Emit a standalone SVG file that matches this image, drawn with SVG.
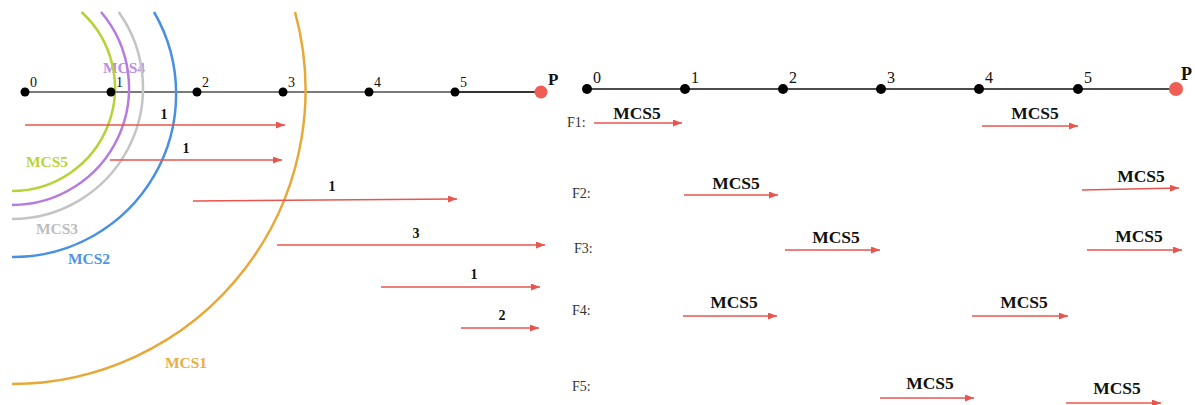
<svg xmlns="http://www.w3.org/2000/svg" width="1195" height="405" viewBox="0 0 1195 405">
<defs>
<marker id="ah" markerUnits="userSpaceOnUse" markerWidth="10" markerHeight="8" refX="9" refY="3.5" orient="auto">
<path d="M0,0 L9,3.5 L0,7 z" fill="#e8554e"/>
</marker>
<style>
.f{font-family:"Liberation Serif","Times New Roman",serif}
.num{font-size:14px;fill:#111}
.rnum{font-size:16px;fill:#111}
.b{font-weight:bold}
.lbl{font-size:15.5px;font-weight:bold}
.m5{font-size:17.5px;font-weight:bold;fill:#111;text-anchor:middle}
.fl{font-size:14px;fill:#333}
.arr{stroke:#e8554e;stroke-width:1.6;fill:none;marker-end:url(#ah)}
.arc{fill:none;stroke-width:2.5}
.dot{fill:#000}
.pdot{fill:#ef5d55}
.cnt{font-size:14px;font-weight:bold;fill:#111;text-anchor:middle}
</style>
</defs>
<rect width="1195" height="405" fill="#fff"/>

<!-- left baseline -->
<line x1="25" y1="92" x2="455" y2="92" stroke="#7a7a7a" stroke-width="2"/>
<line x1="455" y1="92" x2="541" y2="92" stroke="#333" stroke-width="2"/>

<!-- MCS labels -->
<text class="f lbl" x="124" y="73" text-anchor="middle" fill="#c08be6">MCS4</text>
<text class="f lbl" x="47" y="167" text-anchor="middle" fill="#b8d43a">MCS5</text>
<text class="f lbl" x="57" y="234" text-anchor="middle" fill="#bdbdbd">MCS3</text>
<text class="f lbl" x="89" y="264" text-anchor="middle" fill="#4f93e6">MCS2</text>
<text class="f lbl" x="186" y="368" text-anchor="middle" fill="#e9ad45">MCS1</text>

<!-- arcs -->
<g id="arcs">
<path class="arc" stroke="#b5d334" d="M81.5,12 A103,103 0 0 1 12,191"/>
<path class="arc" stroke="#b57be0" d="M101,12 A117,117 0 0 1 12,205"/>
<path class="arc" stroke="#c4c4c4" d="M118.7,12 A131,131 0 0 1 12,219"/>
<path class="arc" stroke="#4a90e2" d="M154,12 A163,163 0 0 1 12,257"/>
<path class="arc" stroke="#e8a838" d="M295,12 A294,294 0 0 1 12,384"/>
</g>

<!-- left nodes -->
<g id="L0"><circle class="dot" cx="25" cy="92" r="4.5"/><text class="f num" x="30" y="87">0</text></g>
<g id="L1"><circle class="dot" cx="111" cy="92" r="4.5"/><text class="f num" x="116" y="87">1</text></g>
<g id="L2"><circle class="dot" cx="197" cy="92" r="4.5"/><text class="f num" x="202" y="87">2</text></g>
<g id="L3"><circle class="dot" cx="283" cy="92" r="4.5"/><text class="f num" x="288" y="87">3</text></g>
<g id="L4"><circle class="dot" cx="369" cy="92" r="4.5"/><text class="f num" x="374" y="87">4</text></g>
<g id="L5"><circle class="dot" cx="455" cy="92" r="4.5"/><text class="f num" x="460" y="87">5</text></g>
<g id="LP"><circle class="pdot" cx="541" cy="92" r="6.5"/><text class="f b" font-size="17" x="548" y="85" fill="#111">P</text></g>

<!-- right baseline -->
<line x1="587" y1="89" x2="1176" y2="89" stroke="#111" stroke-width="1.6"/>

<!-- right nodes -->
<g id="R0"><circle class="dot" cx="587" cy="89" r="5"/><text class="f rnum" x="593" y="83">0</text></g>
<g id="R1"><circle class="dot" cx="685" cy="89" r="5"/><text class="f rnum" x="691" y="83">1</text></g>
<g id="R2"><circle class="dot" cx="783" cy="89" r="5"/><text class="f rnum" x="789" y="83">2</text></g>
<g id="R3"><circle class="dot" cx="881" cy="89" r="5"/><text class="f rnum" x="887" y="83">3</text></g>
<g id="R4"><circle class="dot" cx="979" cy="89" r="5"/><text class="f rnum" x="985" y="83">4</text></g>
<g id="R5"><circle class="dot" cx="1078" cy="89" r="5"/><text class="f rnum" x="1084" y="83">5</text></g>
<g id="RP"><circle class="pdot" cx="1176" cy="89" r="7"/><text class="f b" font-size="18" x="1181" y="80" fill="#111">P</text></g>

<!-- row labels -->
<g id="rows">
<text class="f fl" x="567" y="127">F1:</text>
<text class="f fl" x="572" y="198">F2:</text>
<text class="f fl" x="574" y="253">F3:</text>
<text class="f fl" x="572" y="315">F4:</text>
<text class="f fl" x="572" y="391">F5:</text>
</g>

<!-- connectors -->
<g id="connectors">
<line class="arr" x1="25" y1="125" x2="285" y2="125"/>
<line class="arr" x1="110" y1="160" x2="282" y2="160"/>
<line class="arr" x1="193" y1="201" x2="457" y2="199"/>
<line class="arr" x1="277" y1="245" x2="545" y2="245"/>
<line class="arr" x1="381" y1="287" x2="540" y2="287"/>
<line class="arr" x1="461" y1="328" x2="539" y2="328"/>

<line class="arr" x1="594" y1="123" x2="682" y2="123"/>
<line class="arr" x1="982" y1="126" x2="1078" y2="126"/>
<line class="arr" x1="684" y1="195" x2="778" y2="195"/>
<line class="arr" x1="1082" y1="190" x2="1179" y2="188"/>
<line class="arr" x1="785" y1="250" x2="880" y2="250"/>
<line class="arr" x1="1087" y1="250" x2="1182" y2="250"/>
<line class="arr" x1="683" y1="316" x2="777" y2="316"/>
<line class="arr" x1="972" y1="316" x2="1068" y2="316"/>
<line class="arr" x1="880" y1="398" x2="974" y2="398"/>
<line class="arr" x1="1066" y1="403" x2="1161" y2="403"/>
</g>

<!-- connector labels -->
<g id="conn-labels">
<text class="f cnt" x="164" y="119">1</text>
<text class="f cnt" x="186" y="153">1</text>
<text class="f cnt" x="332" y="191">1</text>
<text class="f cnt" x="416" y="238">3</text>
<text class="f cnt" x="474" y="279">1</text>
<text class="f cnt" x="502" y="320">2</text>

<text class="f m5" x="637" y="119">MCS5</text>
<text class="f m5" x="1035" y="119">MCS5</text>
<text class="f m5" x="736" y="189">MCS5</text>
<text class="f m5" x="1141" y="182">MCS5</text>
<text class="f m5" x="836" y="243">MCS5</text>
<text class="f m5" x="1139" y="242">MCS5</text>
<text class="f m5" x="734" y="308">MCS5</text>
<text class="f m5" x="1024" y="308">MCS5</text>
<text class="f m5" x="930" y="389">MCS5</text>
<text class="f m5" x="1117" y="394">MCS5</text>
</g>
</svg>
